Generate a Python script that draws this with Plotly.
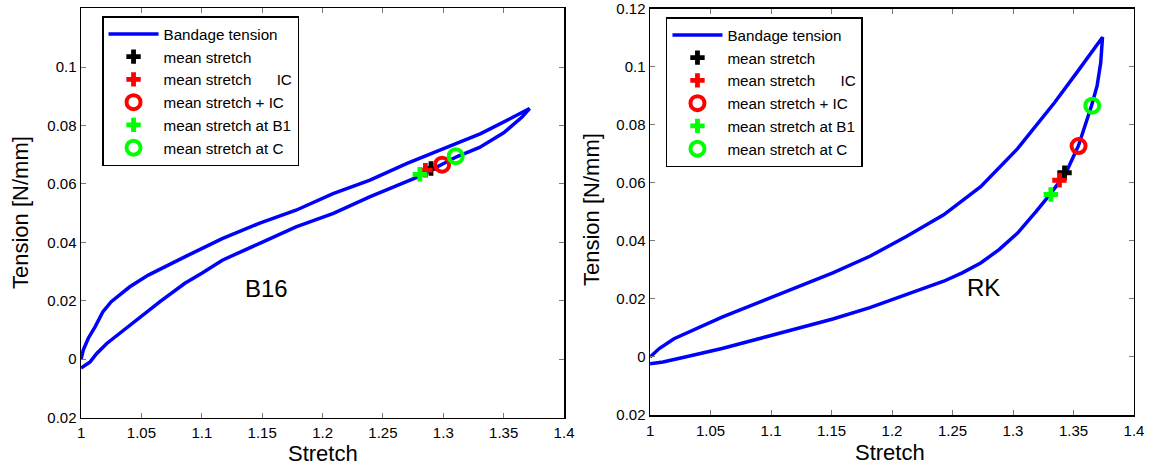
import plotly.graph_objects as go

# ---------------- data ----------------
# B16 (left panel): loading branch (upper) and unloading branch (lower)
b16_up_x = [1.0, 1.0019, 1.006, 1.0116, 1.018, 1.025, 1.0404, 1.0557, 1.0863, 1.1169,
            1.1475, 1.178, 1.2087, 1.2393, 1.27, 1.3005, 1.331, 1.3556, 1.3715]
b16_up_y = [0.0, 0.0032, 0.0072, 0.0111, 0.0162, 0.0197, 0.0248, 0.0288, 0.0351, 0.0413,
            0.0465, 0.051, 0.0567, 0.0613, 0.067, 0.0721, 0.0772, 0.0824, 0.0858]
b16_dn_x = [1.3715, 1.365, 1.35, 1.33, 1.311, 1.279, 1.239, 1.209, 1.178, 1.1475,
            1.117, 1.1, 1.086, 1.0654, 1.0544, 1.0433, 1.0296, 1.0213, 1.013, 1.0075, 1.0]
b16_dn_y = [0.0858, 0.0828, 0.0775, 0.0725, 0.0693, 0.0624, 0.0556, 0.0499, 0.0453, 0.0396,
            0.0339, 0.0294, 0.026, 0.0197, 0.0162, 0.0123, 0.0083, 0.0054, 0.002, -0.0009, -0.003]

# RK (right panel)
rk_up_x = [1.0, 1.0076, 1.0198, 1.038, 1.0595, 1.09, 1.1206, 1.1511, 1.1817, 1.2122,
           1.2427, 1.2733, 1.3038, 1.3344, 1.3527, 1.374]
rk_up_y = [0.0, 0.0029, 0.0063, 0.0097, 0.0137, 0.0188, 0.0239, 0.029, 0.0347, 0.0416,
           0.049, 0.0587, 0.0718, 0.0877, 0.098, 0.1102]
rk_dn_x = [1.374, 1.3725, 1.3695, 1.3649, 1.3542, 1.3435, 1.3313, 1.319, 1.3038, 1.2885,
           1.2733, 1.258, 1.2427, 1.2122, 1.1817, 1.1511, 1.1206, 1.09, 1.0595, 1.029,
           1.0107, 1.0]
rk_dn_y = [0.1102, 0.1014, 0.0934, 0.0866, 0.0729, 0.0632, 0.0564, 0.0501, 0.0427, 0.037,
           0.0324, 0.029, 0.0261, 0.0216, 0.017, 0.0131, 0.0097, 0.0063, 0.0029, 0.0,
           -0.0017, -0.0023]

# marker points: [mean stretch, mean stretch IC, mean stretch + IC, at B1, at C]
b16_pts_x = [1.2898, 1.2852, 1.299, 1.2806, 1.3103]
b16_pts_y = [0.0653, 0.0647, 0.0666, 0.0633, 0.0695]
rk_pts_x = [1.3426, 1.3384, 1.3542, 1.3313, 1.3655]
rk_pts_y = [0.0635, 0.0609, 0.0727, 0.056, 0.0866]

NB = "\u00a0"
pt_names = ["mean stretch", "mean stretch" + NB * 6 + "IC", "mean stretch + IC",
            "mean stretch at B1", "mean stretch at C"]
pt_colors = ["#000000", "#FF0000", "#FF0000", "#00FF00", "#00FF00"]
pt_symbols = ["cross", "cross", "circle-open", "cross", "circle-open"]

x_ticks = [1.0, 1.05, 1.1, 1.15, 1.2, 1.25, 1.3, 1.35, 1.4]
x_ticktext = ["1", "1.05", "1.1", "1.15", "1.2", "1.25", "1.3", "1.35", "1.4"]
y_ticks_left = [-0.02, 0.0, 0.02, 0.04, 0.06, 0.08, 0.1]
y_ticktext_left = ["0.02", "0", "0.02", "0.04", "0.06", "0.08", "0.1"]
y_ticks_right = [-0.02, 0.0, 0.02, 0.04, 0.06, 0.08, 0.1, 0.12]
y_ticktext_right = ["0.02", "0", "0.02", "0.04", "0.06", "0.08", "0.1", "0.12"]

FONT = "Liberation Sans, Arial, Helvetica, sans-serif"
BLUE = "#0000FF"

fig = go.Figure()

panels = [
    ("x", "y", "legend", b16_up_x + b16_dn_x[1:], b16_up_y + b16_dn_y[1:], b16_pts_x, b16_pts_y),
    ("x2", "y2", "legend2", rk_up_x + rk_dn_x[1:], rk_up_y + rk_dn_y[1:], rk_pts_x, rk_pts_y),
]
for xa, ya, lg, cx, cy, px, py in panels:
    fig.add_trace(go.Scatter(x=cx, y=cy, mode="lines", name="Bandage tension",
                             line=dict(color=BLUE, width=3.5), xaxis=xa, yaxis=ya,
                             legend=lg))
    for i in range(len(px)):
        is_cross = pt_symbols[i] == "cross"
        fig.add_trace(go.Scatter(
            x=[px[i]], y=[py[i]], mode="markers", name=pt_names[i],
            marker=dict(symbol=pt_symbols[i], color=pt_colors[i],
                        size=12 if is_cross else 14,
                        line=dict(color=pt_colors[i], width=0 if is_cross else 4)),
            xaxis=xa, yaxis=ya, legend=lg))

axis_common = dict(showgrid=False, zeroline=False, showline=True, linecolor="black",
                   linewidth=1.5, mirror="allticks", ticks="inside", ticklen=5,
                   tickwidth=1, tickcolor="#777777", automargin=False,
                   ticklabeloverflow="allow",
                   tickfont=dict(family=FONT, size=15, color="black"))

fig.update_layout(
    width=1153, height=470, margin=dict(l=0, r=0, t=0, b=0, autoexpand=False),
    paper_bgcolor="white", plot_bgcolor="white", showlegend=True,
    font=dict(family=FONT, color="black"), hovermode=False,
    xaxis=dict(domain=[0.0703, 0.4892], range=[1, 1.4], tickvals=x_ticks,
               ticktext=x_ticktext, anchor="y", ticklabelstandoff=1, **axis_common),
    yaxis=dict(domain=[0.1113, 0.9823], range=[-0.02, 0.1201], tickvals=y_ticks_left,
               ticktext=y_ticktext_left, anchor="x", ticklabelstandoff=0, **axis_common),
    xaxis2=dict(domain=[0.5638, 0.9835], range=[1, 1.4], tickvals=x_ticks,
                ticktext=x_ticktext, anchor="y2", ticklabelstandoff=1, **axis_common),
    yaxis2=dict(domain=[0.117, 1 - 8.5 / 470], range=[-0.02, 0.1201], tickvals=y_ticks_right,
                ticktext=y_ticktext_right, anchor="x2", ticklabelstandoff=0, **axis_common),
    legend=dict(x=0.0885, y=1 - 16 / 470, xanchor="left", yanchor="top", bgcolor="white",
                bordercolor="black", borderwidth=1.5, itemwidth=50, tracegroupgap=0,
                font=dict(family=FONT, size=15.2, color="black")),
    legend2=dict(x=0.5776, y=1 - 17 / 470, xanchor="left", yanchor="top", bgcolor="white",
                 bordercolor="black", borderwidth=1.5, itemwidth=50, tracegroupgap=0,
                 font=dict(family=FONT, size=15.2, color="black")),
)

annots = [
    dict(text="Stretch", x=322.5 / 1153, y=1 - 453 / 470, xref="paper", yref="paper",
         showarrow=False, font=dict(size=22), xanchor="center", yanchor="middle"),
    dict(text="Stretch", x=890 / 1153, y=1 - 452 / 470, xref="paper", yref="paper",
         showarrow=False, font=dict(size=22), xanchor="center", yanchor="middle"),
    dict(text="Tension [N/mm]", x=20 / 1153, y=1 - 213 / 470, xref="paper", yref="paper",
         showarrow=False, font=dict(size=22), textangle=-90, xanchor="center", yanchor="middle"),
    dict(text="Tension [N/mm]", x=591 / 1153, y=1 - 210 / 470, xref="paper", yref="paper",
         showarrow=False, font=dict(size=22), textangle=-90, xanchor="center", yanchor="middle"),
    dict(text="B16", x=1.1536, y=0.0242, xref="x", yref="y", showarrow=False,
         font=dict(size=24), xanchor="center", yanchor="middle"),
    dict(text="RK", x=1.2757, y=0.0239, xref="x2", yref="y2", showarrow=False,
         font=dict(size=24), xanchor="center", yanchor="middle"),
]
fig.update_layout(annotations=annots)

# remove the default 8px page margin so the figure fills the window exactly
fig.write_html("out.html", config={"displayModeBar": False, "staticPlot": True},
               post_script="document.body.style.margin='0';document.body.style.overflow='hidden';")
